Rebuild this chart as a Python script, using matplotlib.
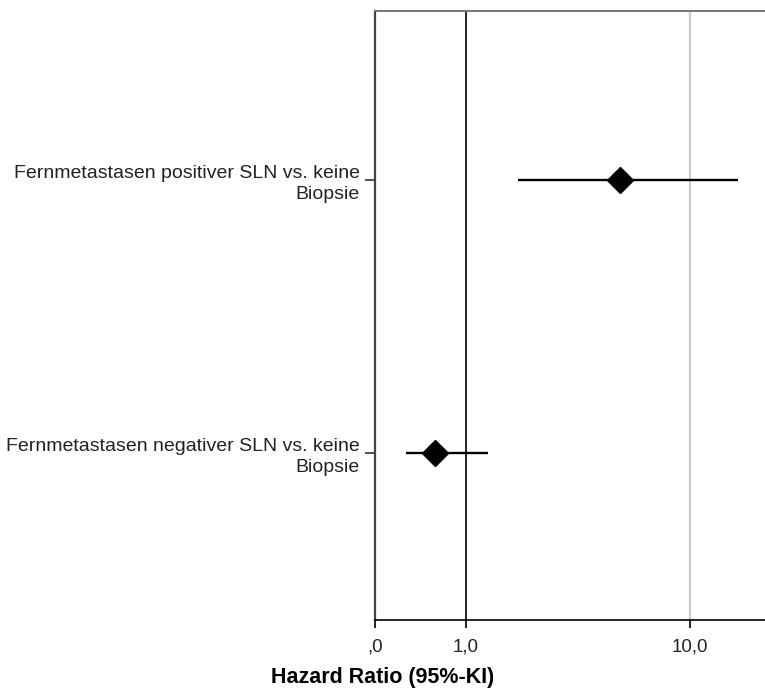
import numpy as np
import matplotlib.pyplot as plt

plt.rcParams['font.family'] = ['Liberation Sans', 'DejaVu Sans']

labels = ["Fernmetastasen negativer SLN vs. keine\nBiopsie",
          "Fernmetastasen positiver SLN vs. keine\nBiopsie"]
hr = [0.73, 4.87]
ci_low = [0.54, 1.71]
ci_high = [1.25, 16.4]
xticks = [0.393, 1.0, 10.0]
xticklabels = [",0", "1,0", "10,0"]

fig = plt.figure(figsize=(7.65, 6.89), dpi=100)
ax = fig.add_axes([0.4902, 0.1001, 0.5098, 0.8839])

ypos = np.arange(1, len(labels) + 1)
ax.axvline(1.0, color='black', lw=1.2, zorder=1)
ax.axvline(10.0, color='#cccccc', lw=1.6, zorder=1)
ax.hlines(ypos, ci_low, ci_high, color='black', lw=1.7, zorder=2)
ax.plot(hr, ypos, 'D', color='black', markersize=13, zorder=3)

ax.set_xscale('log')
ax.set_xlim(0.3928, 21.6)
ax.set_ylim(0.388, 2.619)
ax.set_xticks(xticks)
ax.set_xticklabels(xticklabels)
ax.xaxis.set_minor_locator(plt.NullLocator())
ax.set_yticks(ypos)
ax.set_yticklabels(labels, ha='right', fontsize=14, linespacing=1.3)
ax.tick_params(axis='x', labelsize=13.5, length=6, width=1.2, colors='black',
               labelcolor='#222222', pad=7)
ax.tick_params(axis='y', length=7, width=1.2, color='#333333',
               labelcolor='#222222', pad=4)

ax.spines['right'].set_visible(False)
ax.spines['left'].set_color('#444444')
ax.spines['left'].set_linewidth(1.6)
ax.spines['top'].set_color('#777777')
ax.spines['top'].set_linewidth(1.4)
ax.spines['bottom'].set_color('black')
ax.spines['bottom'].set_linewidth(1.2)

fig.text(0.5, 0.002, "Hazard Ratio (95%-KI)", ha='center', va='bottom',
         fontsize=15.5, fontweight='bold', color='black')

fig.savefig('out.png', dpi=100)
